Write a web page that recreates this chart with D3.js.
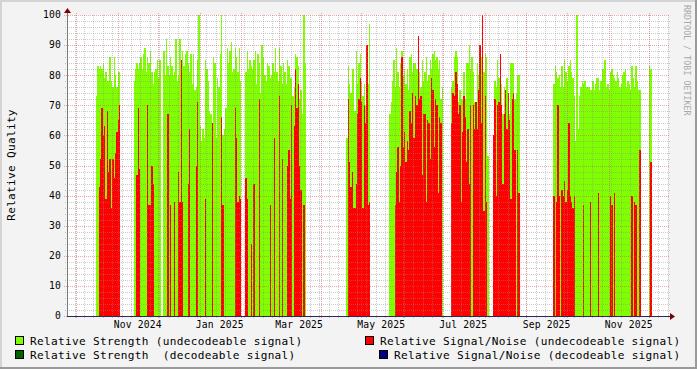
<!DOCTYPE html>
<html>
<head>
<meta charset="utf-8">
<title>Relative Quality</title>
<script src="https://d3js.org/d3.v7.min.js"></script>
<style>
    body { margin: 0; background: #f3f3f3; }
    svg text { font-family: "DejaVu Sans Mono", monospace; fill: #000; }
</style>
</head>
<body>
<svg id="chart" width="697" height="369"></svg>
<script>
// daily values, one array per run of data (null = no value that day)
const segStarts = ["2024-10-16", "2024-11-13", "2024-12-05", "2025-02-04", "2025-04-20",
                   "2025-05-22", "2025-07-07", "2025-08-07", "2025-09-21", "2025-12-01"];

const strengthA = [73,83,82,83,82,84,79,81,78,78,86,78,76,86,80,76,81,81];
const snrA      = [null,null,43,52,69,60,63,39,68,48,52,36,52,46,54,61,65,70];

const strengthB = [78,82,84,82,84,86,82,87,89,81,86,84,88,81,77,81,82,85,79,85];
const snrB      = [null,null,47,69,49,null,null,null,null,null,70,37,37,50,44,null,null,null,null,null];

const strengthC = [88,80,92,83,80,86,83,80,81,92,78,80,92,81,88,83,87,88,84,81,87,77,87,75,76,85,100,63,58,62,59,
                   85,82,78,68,67,64,86,84,59,79,76,87,100,60,62,69,89,84,88,91,81,82,89,86,81,89,78];
const snrC      = [null,null,null,67,null,37,null,null,38,null,null,48,38,85,38,null,null,null,44,62,null,null,null,null,50,71,null,null,null,null,null,
                   39,null,null,null,null,64,null,null,null,null,null,null,66,37,null,null,null,null,null,null,null,null,69,59,38,40,39];

const strengthD = [81,88,82,85,83,82,85,88,77,87,84,74,90,86,80,78,84,83,79,80,84,81,89,81,78,
                   89,83,77,84,81,77,85,83,79,79,73,76,87,86,83,72,75,67,100,84];
const snrD      = [46,39,null,null,24,null,44,null,null,null,72,null,null,null,null,null,null,null,37,null,null,59,null,null,null,
                   73,null,52,null,null,null,50,55,39,70,null,63,82,69,77,50,42,null,37,null];

const strengthE = [59,83,77,74,82,82,68,88,77,84,87,78,73,77,70,90,77,97];
const snrE      = [null,72,51,43,48,36,36,44,67,72,79,71,36,70,64,90,37,38];

const strengthF = [67,71,78,85,76,89,81,76,84,88,80,82,77,82,75,86,87,81,84,84,
                   82,76,81,76,85,78,81,86,78,80,85,82,87,88,85,86,82,85,72,76];
const snrF      = [null,null,null,null,37,48,56,38,50,86,56,61,51,58,55,68,64,74,59,73,
                   70,93,72,73,47,67,67,38,65,64,52,79,75,56,72,70,41,66,64,null];

const strengthG = [76,78,86,88,86,71,75,72,72,81,72,84,84,90,82,86,81,71,71,84,80,90,86,87,81,87,86,53];
const snrG      = [64,74,73,81,77,67,70,38,61,73,66,51,62,44,70,null,70,62,71,62,75,90,64,100,35,73,38,null];

const strengthH = [53,78,76,85,79,87,77,67,76,72,79,64,67,84,84,84,72,74,80,80];
const snrH      = [60,72,40,70,71,87,70,44,67,75,62,74,65,39,72,74,55,null,55,41];

const strengthI = [77,83,81,79,80,76,83,76,85,81,78,83,85,81,79,73,58,100,62,73,
                   76,78,77,78,76,76,76,75,75,78,75,77,79,79,75,78,82,82,85,76,
                   77,75,81,82,80,79,78,81,79,76,77,80,81,82,76,78,77,75,83,79,
                   76,83,78,75,75];
const snrI      = [40,null,38,70,40,null,42,40,45,38,42,64,40,38,36,40,null,null,null,null,
                   null,null,37,null,null,null,null,38,null,null,null,null,null,41,null,null,null,null,null,null,
                   null,null,40,37,null,41,null,null,null,null,null,null,null,null,null,null,null,null,40,null,
                   38,37,null,null,55];

const strengthJ = [83,82];
const snrJ      = [null,51];

const yTicks = [0,10,20,30,40,50,60,70,80,90,100];
const monthLabels = ["Nov 2024","Jan 2025","Mar 2025","May 2025","Jul 2025","Sep 2025","Nov 2025"];
const monthLabelDates = ["2024-11-16","2025-01-16","2025-03-16","2025-05-16","2025-07-16","2025-09-16","2025-11-16"];

const legendItems = [
    { label: "Relative Strength (undecodeable signal)", color: "#80ff00" },
    { label: "Relative Signal/Noise (undecodeable signal)", color: "#ff0000" },
    { label: "Relative Strength  (decodeable signal)", color: "#006400" },
    { label: "Relative Signal/Noise (decodeable signal)", color: "#000080" }
];

const strengthSegs = [strengthA,strengthB,strengthC,strengthD,strengthE,strengthF,strengthG,strengthH,strengthI,strengthJ];
const snrSegs = [snrA,snrB,snrC,snrD,snrE,snrF,snrG,snrH,snrI,snrJ];

const width = 697, height = 369;
const plotLeft = 67, plotRight = 668, plotTop = 15, plotBottom = 316;
const svg = d3.select("#chart");
const day = 86400000;

const x = d3.scaleUtc()
    .domain([Date.UTC(2024, 8, 24, 10), Date.UTC(2025, 11, 15, 5)])
    .range([plotLeft, plotRight]);
const y = d3.scaleLinear().domain([0, 100]).range([plotBottom, plotTop]);

// flatten the runs into day records
const days = [];
segStarts.forEach((s, i) => {
    const t = Date.parse(s + "T00:00:00Z");
    strengthSegs[i].forEach((g, k) => {
        days.push({ t0: t + k * day, t1: t + (k + 1) * day, g: g, r: snrSegs[i][k] });
    });
});

// background + 3d frame like rrdtool
svg.append("rect").attr("width", width).attr("height", height).attr("fill", "#f3f3f3");
svg.append("rect").attr("x", 0).attr("y", 0).attr("width", width).attr("height", 2).attr("fill", "#d4d4d4");
svg.append("rect").attr("x", 0).attr("y", 0).attr("width", 2).attr("height", height).attr("fill", "#d4d4d4");
svg.append("rect").attr("x", 0).attr("y", height - 2).attr("width", width).attr("height", 2).attr("fill", "#9a9a9a");
svg.append("rect").attr("x", width - 2).attr("y", 0).attr("width", 2).attr("height", height).attr("fill", "#9a9a9a");

svg.append("rect")
    .attr("x", plotLeft).attr("y", plotTop)
    .attr("width", plotRight - plotLeft).attr("height", plotBottom - plotTop)
    .attr("fill", "#ffffff");

const px = v => Math.round(x(v));
const bars = svg.append("g").attr("shape-rendering", "crispEdges");

bars.selectAll(".g").data(days.filter(d => d.g != null)).enter().append("rect")
    .attr("x", d => px(d.t0))
    .attr("width", d => Math.max(1, px(d.t1) - px(d.t0)))
    .attr("y", d => Math.round(y(d.g)))
    .attr("height", d => plotBottom - Math.round(y(d.g)))
    .attr("fill", "#80ff00");

bars.selectAll(".r").data(days.filter(d => d.r != null)).enter().append("rect")
    .attr("x", d => px(d.t0))
    .attr("width", d => Math.max(1, px(d.t1) - px(d.t0)))
    .attr("y", d => Math.round(y(d.r)))
    .attr("height", d => plotBottom - Math.round(y(d.r)))
    .attr("fill", "#ff0000");

// grid on top of the data
const grid = svg.append("g").attr("shape-rendering", "crispEdges");
const minorY = d3.range(0, 101, 2).filter(v => v % 10 !== 0);
grid.selectAll(".hmin").data(minorY).enter().append("line")
    .attr("x1", plotLeft - 2).attr("x2", plotRight + 2)
    .attr("y1", d => Math.round(y(d)) + 0.5).attr("y2", d => Math.round(y(d)) + 0.5)
    .attr("stroke", "rgba(143,143,143,0.45)").attr("stroke-dasharray", "1,1");

const weeks = d3.utcMonday.range(x.domain()[0], x.domain()[1]);
grid.selectAll(".vmin").data(weeks).enter().append("line")
    .attr("x1", d => px(d) + 0.5).attr("x2", d => px(d) + 0.5)
    .attr("y1", plotTop).attr("y2", plotBottom + 2)
    .attr("stroke", "rgba(143,143,143,0.45)").attr("stroke-dasharray", "1,1");

grid.selectAll(".hmaj").data(yTicks).enter().append("line")
    .attr("x1", plotLeft - 3).attr("x2", plotRight + 2)
    .attr("y1", d => Math.round(y(d)) + 0.5).attr("y2", d => Math.round(y(d)) + 0.5)
    .attr("stroke", "rgba(222,80,80,0.5)").attr("stroke-dasharray", "1,1");

const months = d3.utcMonth.range(x.domain()[0], x.domain()[1]);
grid.selectAll(".vmaj").data(months).enter().append("line")
    .attr("x1", d => px(d) + 0.5).attr("x2", d => px(d) + 0.5)
    .attr("y1", plotTop - 2).attr("y2", plotBottom + 3)
    .attr("stroke", "rgba(222,80,80,0.5)").attr("stroke-dasharray", "1,1");

// axes
svg.append("line").attr("x1", plotLeft + 0.5).attr("x2", plotLeft + 0.5).attr("y1", plotBottom).attr("y2", 11)
    .attr("stroke", "#7a7a7a").attr("shape-rendering", "crispEdges");
svg.append("line").attr("x1", plotLeft).attr("x2", plotRight + 3).attr("y1", plotBottom + 0.5).attr("y2", plotBottom + 0.5)
    .attr("stroke", "#2a2a5a").attr("shape-rendering", "crispEdges");
svg.append("path").attr("d", `M${plotLeft - 3},13 L${plotLeft + 0.5},8 L${plotLeft + 4},13 Z`).attr("fill", "#7f0000");
svg.append("path").attr("d", `M${plotRight + 2},${plotBottom - 3} L${plotRight + 7},${plotBottom + 0.5} L${plotRight + 2},${plotBottom + 4} Z`).attr("fill", "#7f0000");

// tick labels
svg.append("g").selectAll("text").data(yTicks).enter().append("text")
    .attr("x", 61).attr("y", d => y(d)).attr("dy", "0.35em")
    .attr("text-anchor", "end")
    .style("font-size", "9.7px").style("letter-spacing", "0.15px")
    .text(d => d);

svg.append("g").selectAll("text").data(monthLabels).enter().append("text")
    .attr("x", (d, i) => x(Date.parse(monthLabelDates[i] + "T00:00:00Z")))
    .attr("y", 328)
    .attr("text-anchor", "middle")
    .style("font-size", "9.7px").style("letter-spacing", "0.15px")
    .text(d => d);

// vertical unit label
svg.append("text")
    .attr("transform", "translate(15,165) rotate(-90)")
    .attr("text-anchor", "middle")
    .style("font-size", "11.1px").style("letter-spacing", "0.3px")
    .text("Relative Quality");

// watermark
svg.append("text")
    .attr("transform", "translate(684,5) rotate(90)")
    .style("font-size", "8.2px").style("letter-spacing", "0.1px")
    .style("fill", "#a8a8a8")
    .text("RRDTOOL / TOBI OETIKER");

// legend, two columns, right column right-aligned
const legendPos = [
    { bx: 15, ty: 344.5 }, { bx: 365, ty: 344.5 },
    { bx: 15, ty: 358.5 }, { bx: 379, ty: 358.5 }
];
legendItems.forEach((item, i) => {
    const p = legendPos[i];
    svg.append("rect")
        .attr("x", p.bx + 0.5).attr("y", p.ty - 8)
        .attr("width", 8).attr("height", 8)
        .attr("fill", item.color).attr("stroke", "#000")
        .attr("shape-rendering", "crispEdges");
    svg.append("text")
        .attr("x", p.bx + 15).attr("y", p.ty)
        .attr("xml:space", "preserve")
        .style("white-space", "pre")
        .style("font-size", "11.1px").style("letter-spacing", "0.31px")
        .text(item.label);
});
</script>
</body>
</html>
